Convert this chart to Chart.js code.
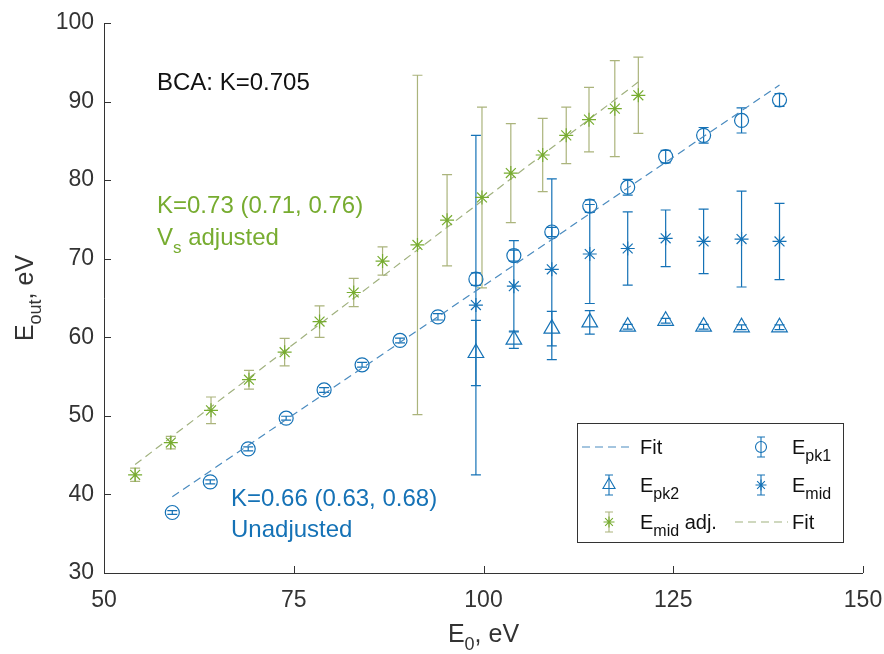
<!DOCTYPE html>
<html>
<head>
<meta charset="utf-8">
<script src="https://cdn.jsdelivr.net/npm/chart.js@4"></script>
<style>
  body { margin: 0; background: #fff; }
  #plot { display: block; }
</style>
</head>
<body>
<canvas id="plot" width="884" height="654"></canvas>
<script>
/************************************** Data **************************************/
// primary peak, E0 vs Eout
const e0Pk1 = [59, 64, 69, 74, 79, 84, 89, 94, 99, 104, 109, 114, 119, 124, 129, 134, 139];
const ePk1 = [37.7, 41.6, 45.8, 49.7, 53.3, 56.5, 59.6, 62.6, 67.4, 70.4, 73.4, 76.7, 79.1, 83.0, 85.7, 87.6, 90.2];
const ePk1Err = [0.25, 0.25, 0.25, 0.25, 0.3, 0.3, 0.3, 0.4, 0.8, 0.7, 0.6, 0.8, 1.0, 0.8, 1.0, 1.6, 0.8];

// second peak + midpoint, only above 99 eV
const e0High = [99, 104, 109, 114, 119, 124, 129, 134, 139];
const ePk2 = [58.0, 59.7, 61.1, 61.9, 61.35, 62.1, 61.35, 61.27, 61.27];
const ePk2Err = [4.15, 1.1, 2.2, 1.5, 0.3, 0.3, 0.3, 0.3, 0.3];
const eMid = [64.1, 66.5, 68.65, 70.6, 71.3, 72.6, 72.2, 72.5, 72.2];
const eMidErr = [21.6, 5.8, 11.5, 6.3, 4.65, 3.6, 4.1, 6.1, 4.85];

// midpoint with Vs adjustment (shifted E0)
const e0Adj = [54.1, 58.8, 64.1, 69.1, 73.8, 78.4, 82.9, 86.7, 91.3, 95.2, 99.8, 103.6, 107.8, 110.9, 113.9, 117.3, 120.4];
const eMidAdj = [42.5, 46.6, 50.7, 54.6, 58.1, 62.0, 65.7, 69.7, 71.75, 74.9, 77.8, 80.9, 83.2, 85.7, 87.7, 89.1, 90.8];
const eMidAdjErr = [0.85, 0.8, 1.7, 1.2, 1.75, 2.0, 1.8, 1.8, 21.6, 5.8, 11.5, 6.3, 4.65, 3.6, 4.1, 6.1, 4.85];

// linear fits (end points)
const fitX = [59, 139];
const fitY = [39.7, 92.1];
const fitAdjX = [54.1, 120.4];
const fitAdjY = [43.8, 92.5];

const xTicks = [50, 75, 100, 125, 150];
const yTicks = [30, 40, 50, 60, 70, 80, 90, 100];

/************************************** Styles **************************************/
const BLUE = '#1572b6';
const BLUE_FIT = '#4a8bbf';
const GREEN = '#77ac30';
const GREEN_BAR = '#abb47c';
const GREEN_FIT = '#a0b17e';
const AXIS = '#333333';
const FONT = "'Liberation Sans', Arial, sans-serif";

const pts = (xs, ys) => xs.map((x, i) => ({x: x, y: ys[i]}));

/************************************** Plugins **************************************/
function capLine(ctx, x, y, half) {
    ctx.moveTo(x - half, y);
    ctx.lineTo(x + half, y);
}

// vertical error bars with caps, read from dataset.errors
const errorBars = {
    id: 'errorBars',
    beforeDatasetsDraw(chart) {
        const ctx = chart.ctx;
        const xs = chart.scales.x, ys = chart.scales.y;
        chart.data.datasets.forEach(ds => {
            if (!ds.errors) return;
            ctx.save();
            ctx.strokeStyle = ds.barColor;
            ctx.lineWidth = 1.2;
            ctx.beginPath();
            ds.data.forEach((p, i) => {
                const px = xs.getPixelForValue(p.x);
                const top = ys.getPixelForValue(p.y + ds.errors[i]);
                const bot = ys.getPixelForValue(p.y - ds.errors[i]);
                ctx.moveTo(px, top);
                ctx.lineTo(px, bot);
                capLine(ctx, px, top, 5);
                capLine(ctx, px, bot, 5);
            });
            ctx.stroke();
            ctx.restore();
        });
    }
};

// text made of pieces: [text, size, baseline shift]
function drawParts(ctx, parts, x, y, color) {
    ctx.fillStyle = color;
    ctx.textBaseline = 'alphabetic';
    ctx.textAlign = 'left';
    let cx = x;
    parts.forEach(([t, size, dy]) => {
        ctx.font = size + 'px ' + FONT;
        ctx.fillText(t, cx, y + dy);
        cx += ctx.measureText(t).width;
    });
    return cx;
}
function partsWidth(ctx, parts) {
    let w = 0;
    parts.forEach(([t, size]) => {
        ctx.font = size + 'px ' + FONT;
        w += ctx.measureText(t).width;
    });
    return w;
}

function legendMarker(ctx, style, x, y, color, barColor) {
    ctx.save();
    ctx.strokeStyle = barColor;
    ctx.lineWidth = 1.1;
    ctx.beginPath();
    ctx.moveTo(x, y - 10); ctx.lineTo(x, y + 10);
    capLine(ctx, x, y - 10, 4);
    capLine(ctx, x, y + 10, 4);
    ctx.stroke();
    ctx.restore();
    ctx.save();
    ctx.strokeStyle = color;
    ctx.fillStyle = 'transparent';
    ctx.lineWidth = 1.1;
    Chart.helpers.drawPoint(ctx, {pointStyle: style, radius: style === 'triangle' ? 7 : 5.5, borderWidth: 1.1}, x, y);
    ctx.restore();
}

function legendDash(ctx, x1, x2, y, color) {
    ctx.save();
    ctx.strokeStyle = color;
    ctx.lineWidth = 1.2;
    ctx.setLineDash([8, 5]);
    ctx.beginPath();
    ctx.moveTo(x1, y); ctx.lineTo(x2, y);
    ctx.stroke();
    ctx.restore();
}

// axes lines, inward ticks, titles, annotations and legend box
const decorations = {
    id: 'decorations',
    afterDraw(chart) {
        const ctx = chart.ctx;
        const area = chart.chartArea;
        const xs = chart.scales.x, ys = chart.scales.y;

        ctx.save();
        ctx.strokeStyle = AXIS;
        ctx.lineWidth = 1;
        ctx.beginPath();
        ctx.moveTo(area.left + 0.5, area.top);
        ctx.lineTo(area.left + 0.5, area.bottom + 0.5);
        ctx.lineTo(area.right, area.bottom + 0.5);
        xTicks.forEach(v => {
            const px = Math.round(xs.getPixelForValue(v)) + 0.5;
            ctx.moveTo(px, area.bottom);
            ctx.lineTo(px, area.bottom - 7);
        });
        yTicks.forEach(v => {
            const py = Math.round(ys.getPixelForValue(v)) + 0.5;
            ctx.moveTo(area.left, py);
            ctx.lineTo(area.left + 7, py);
        });
        ctx.stroke();
        ctx.restore();

        // axis titles
        ctx.save();
        const xt = [['E', 25, 0], ['0', 18, 8], [', eV', 25, 0]];
        const xw = partsWidth(ctx, xt);
        drawParts(ctx, xt, (area.left + area.right) / 2 - xw / 2, 642, AXIS);
        ctx.translate(33, (area.top + area.bottom) / 2);
        ctx.rotate(-Math.PI / 2);
        const yt = [['E', 25, 0], ['out', 18, 8], [', eV', 25, 0]];
        const yw = partsWidth(ctx, yt);
        drawParts(ctx, yt, -yw / 2, 0, AXIS);
        ctx.restore();

        // annotations
        drawParts(ctx, [['BCA: K=0.705', 24, 0]], 157, 90, '#111111');
        drawParts(ctx, [['K=0.73 (0.71, 0.76)', 24, 0]], 157, 213, GREEN);
        drawParts(ctx, [['V', 24, 0], ['s', 17, 8], [' adjusted', 24, 0]], 157, 245, GREEN);
        drawParts(ctx, [['K=0.66 (0.63, 0.68)', 24, 0]], 231, 506, BLUE);
        drawParts(ctx, [['Unadjusted', 24, 0]], 231, 537, BLUE);

        // legend
        const lx = 577, ly = 423, lw = 266, lh = 119;
        ctx.save();
        ctx.fillStyle = '#ffffff';
        ctx.fillRect(lx, ly, lw, lh);
        ctx.strokeStyle = AXIS;
        ctx.lineWidth = 1;
        ctx.strokeRect(lx + 0.5, ly + 0.5, lw, lh);
        ctx.restore();

        const rows = [447, 485, 522];
        legendDash(ctx, 582, 632, rows[0], BLUE_FIT);
        drawParts(ctx, [['Fit', 20, 7]], 640, rows[0], '#111111');
        legendMarker(ctx, 'circle', 761, rows[0], BLUE, BLUE);
        drawParts(ctx, [['E', 20, 7], ['pk1', 16, 14]], 792, rows[0], '#111111');

        legendMarker(ctx, 'triangle', 609, rows[1], BLUE, BLUE);
        drawParts(ctx, [['E', 20, 7], ['pk2', 16, 14]], 640, rows[1], '#111111');
        legendMarker(ctx, 'star', 761, rows[1], BLUE, BLUE);
        drawParts(ctx, [['E', 20, 7], ['mid', 16, 14]], 792, rows[1], '#111111');

        legendMarker(ctx, 'star', 609, rows[2], GREEN, GREEN_BAR);
        drawParts(ctx, [['E', 20, 7], ['mid', 16, 14], [' adj.', 20, 7]], 640, rows[2], '#111111');
        legendDash(ctx, 735, 788, rows[2], GREEN_FIT);
        drawParts(ctx, [['Fit', 20, 7]], 792, rows[2], '#111111');
    }
};

/************************************** Chart **************************************/
const markerSet = (label, data, style, radius, color, barColor, errors) => ({
    label: label,
    data: data,
    showLine: false,
    pointStyle: style,
    pointRadius: radius,
    borderColor: color,
    backgroundColor: 'transparent',
    pointBorderWidth: 1.2,
    errors: errors,
    barColor: barColor
});

const fitSet = (label, data, color) => ({
    label: label,
    data: data,
    showLine: true,
    borderColor: color,
    borderWidth: 1.2,
    borderDash: [8, 5],
    pointRadius: 0,
    fill: false
});

// fixed axis sizes, no extra room for overhanging tick labels
const noOverhang = s => {
    s.paddingLeft = 0; s.paddingRight = 0;
    s.paddingTop = 0; s.paddingBottom = 0;
};

new Chart(document.getElementById('plot'), {
    type: 'scatter',
    data: {
        datasets: [
            fitSet('Fit', pts(fitX, fitY), BLUE_FIT),
            markerSet('Epk1', pts(e0Pk1, ePk1), 'circle', 7, BLUE, BLUE, ePk1Err),
            markerSet('Epk2', pts(e0High, ePk2), 'triangle', 9, BLUE, BLUE, ePk2Err),
            markerSet('Emid', pts(e0High, eMid), 'star', 7, BLUE, BLUE, eMidErr),
            markerSet('Emid adj.', pts(e0Adj, eMidAdj), 'star', 7, GREEN, GREEN_BAR, eMidAdjErr),
            fitSet('Fit', pts(fitAdjX, fitAdjY), GREEN_FIT)
        ]
    },
    options: {
        responsive: false,
        animation: false,
        layout: { padding: { top: 23, right: 21, left: 0, bottom: 0 } },
        plugins: {
            legend: { display: false },
            tooltip: { enabled: false }
        },
        scales: {
            x: {
                type: 'linear',
                min: 50,
                max: 150,
                afterBuildTicks: s => { s.ticks = xTicks.map(v => ({value: v})); },
                ticks: { font: { family: FONT, size: 23 }, color: AXIS, padding: 14, maxRotation: 0 },
                grid: { display: false, drawTicks: false },
                border: { display: false },
                afterFit: s => { s.height = 81; noOverhang(s); }
            },
            y: {
                type: 'linear',
                min: 30,
                max: 100,
                afterBuildTicks: s => { s.ticks = yTicks.map(v => ({value: v})); },
                ticks: { font: { family: FONT, size: 23 }, color: AXIS, padding: 10 },
                grid: { display: false, drawTicks: false },
                border: { display: false },
                afterFit: s => { s.width = 104; noOverhang(s); }
            }
        }
    },
    plugins: [errorBars, decorations]
});
</script>
</body>
</html>
